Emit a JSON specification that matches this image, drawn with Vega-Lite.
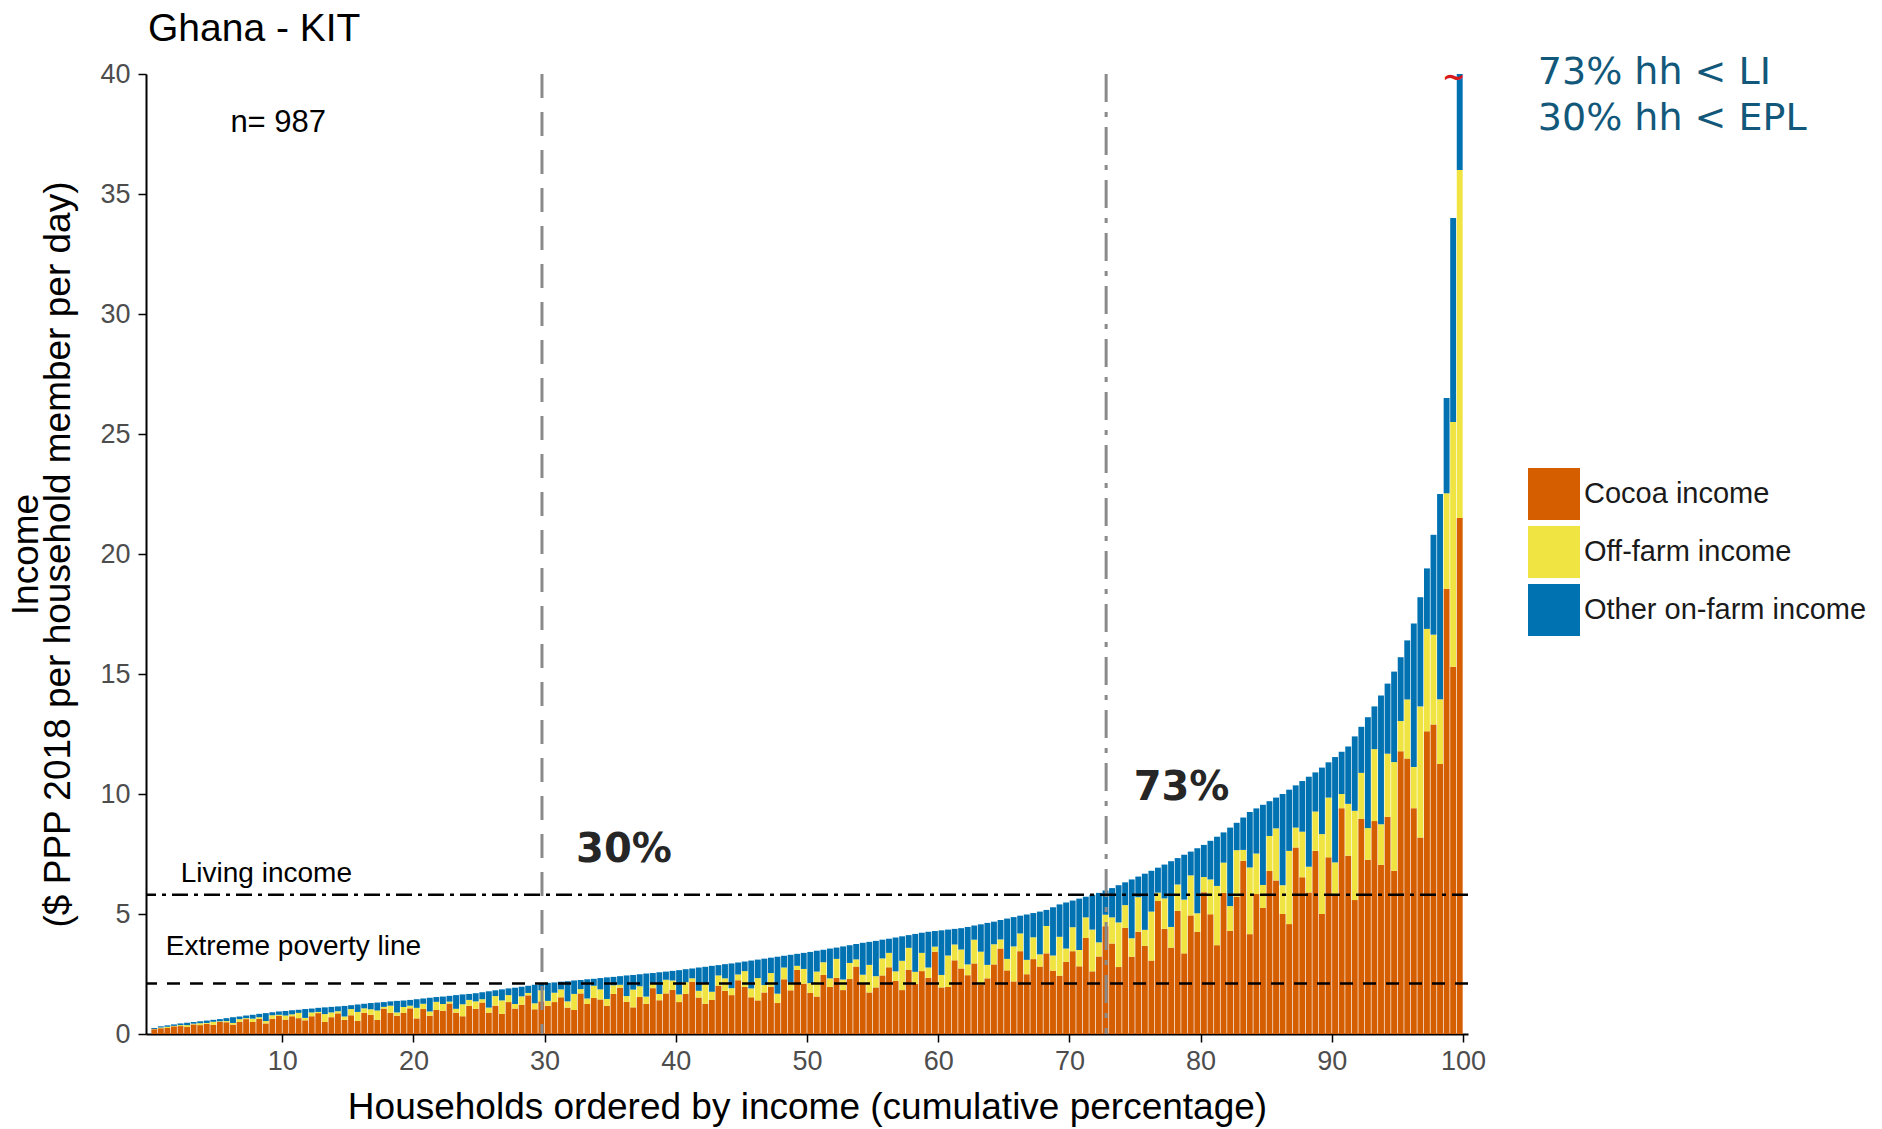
{
"$schema":"https://vega.github.io/schema/vega-lite/v6.json",
"width":1322,"height":960,
"autosize":{"type":"none"},
"padding":{"left":146,"top":74,"right":414,"bottom":95},
"background":"white",
"config":{"view":{"stroke":null},"font":"Liberation Sans"},
"title":{"text":"Ghana - KIT","anchor":"start","frame":"group","fontSize":39,"font":"Liberation Sans","fontWeight":"normal","color":"#000000","dx":2,"offset":5},
"datasets":{
"hh":[
{"p":0.25,"Cocoa income":0.20,"Off-farm income":0.01,"Other on-farm income":0.04},
{"p":0.75,"Cocoa income":0.24,"Off-farm income":0.03,"Other on-farm income":0.05},
{"p":1.25,"Cocoa income":0.25,"Off-farm income":0.05,"Other on-farm income":0.06},
{"p":1.75,"Cocoa income":0.32,"Off-farm income":0.02,"Other on-farm income":0.06},
{"p":2.25,"Cocoa income":0.33,"Off-farm income":0.04,"Other on-farm income":0.07},
{"p":2.75,"Cocoa income":0.29,"Off-farm income":0.08,"Other on-farm income":0.10},
{"p":3.25,"Cocoa income":0.40,"Off-farm income":0.03,"Other on-farm income":0.07},
{"p":3.75,"Cocoa income":0.37,"Off-farm income":0.08,"Other on-farm income":0.08},
{"p":4.25,"Cocoa income":0.42,"Off-farm income":0.04,"Other on-farm income":0.10},
{"p":4.75,"Cocoa income":0.38,"Off-farm income":0.13,"Other on-farm income":0.08},
{"p":5.25,"Cocoa income":0.50,"Off-farm income":0.03,"Other on-farm income":0.09},
{"p":5.75,"Cocoa income":0.49,"Off-farm income":0.05,"Other on-farm income":0.12},
{"p":6.25,"Cocoa income":0.39,"Off-farm income":0.07,"Other on-farm income":0.24},
{"p":6.75,"Cocoa income":0.51,"Off-farm income":0.11,"Other on-farm income":0.11},
{"p":7.25,"Cocoa income":0.62,"Off-farm income":0.04,"Other on-farm income":0.11},
{"p":7.75,"Cocoa income":0.50,"Off-farm income":0.14,"Other on-farm income":0.16},
{"p":8.25,"Cocoa income":0.63,"Off-farm income":0.07,"Other on-farm income":0.14},
{"p":8.75,"Cocoa income":0.44,"Off-farm income":0.10,"Other on-farm income":0.33},
{"p":9.25,"Cocoa income":0.64,"Off-farm income":0.14,"Other on-farm income":0.13},
{"p":9.75,"Cocoa income":0.75,"Off-farm income":0.05,"Other on-farm income":0.14},
{"p":10.25,"Cocoa income":0.60,"Off-farm income":0.17,"Other on-farm income":0.19},
{"p":10.75,"Cocoa income":0.74,"Off-farm income":0.08,"Other on-farm income":0.17},
{"p":11.25,"Cocoa income":0.66,"Off-farm income":0.22,"Other on-farm income":0.13},
{"p":11.75,"Cocoa income":0.57,"Off-farm income":0.10,"Other on-farm income":0.37},
{"p":12.25,"Cocoa income":0.74,"Off-farm income":0.16,"Other on-farm income":0.16},
{"p":12.75,"Cocoa income":0.87,"Off-farm income":0.05,"Other on-farm income":0.17},
{"p":13.25,"Cocoa income":0.50,"Off-farm income":0.33,"Other on-farm income":0.28},
{"p":13.75,"Cocoa income":0.70,"Off-farm income":0.20,"Other on-farm income":0.23},
{"p":14.25,"Cocoa income":0.86,"Off-farm income":0.09,"Other on-farm income":0.20},
{"p":14.75,"Cocoa income":0.59,"Off-farm income":0.14,"Other on-farm income":0.44},
{"p":15.25,"Cocoa income":0.78,"Off-farm income":0.26,"Other on-farm income":0.16},
{"p":15.75,"Cocoa income":0.55,"Off-farm income":0.37,"Other on-farm income":0.31},
{"p":16.25,"Cocoa income":0.88,"Off-farm income":0.19,"Other on-farm income":0.19},
{"p":16.75,"Cocoa income":0.80,"Off-farm income":0.23,"Other on-farm income":0.26},
{"p":17.25,"Cocoa income":0.59,"Off-farm income":0.39,"Other on-farm income":0.33},
{"p":17.75,"Cocoa income":1.06,"Off-farm income":0.07,"Other on-farm income":0.20},
{"p":18.25,"Cocoa income":0.88,"Off-farm income":0.30,"Other on-farm income":0.18},
{"p":18.75,"Cocoa income":0.76,"Off-farm income":0.14,"Other on-farm income":0.48},
{"p":19.25,"Cocoa income":0.87,"Off-farm income":0.25,"Other on-farm income":0.28},
{"p":19.75,"Cocoa income":1.07,"Off-farm income":0.11,"Other on-farm income":0.24},
{"p":20.25,"Cocoa income":0.65,"Off-farm income":0.44,"Other on-farm income":0.36},
{"p":20.75,"Cocoa income":1.04,"Off-farm income":0.22,"Other on-farm income":0.22},
{"p":21.25,"Cocoa income":0.76,"Off-farm income":0.18,"Other on-farm income":0.57},
{"p":21.75,"Cocoa income":1.00,"Off-farm income":0.34,"Other on-farm income":0.20},
{"p":22.25,"Cocoa income":0.97,"Off-farm income":0.28,"Other on-farm income":0.31},
{"p":22.75,"Cocoa income":1.27,"Off-farm income":0.08,"Other on-farm income":0.24},
{"p":23.25,"Cocoa income":0.89,"Off-farm income":0.16,"Other on-farm income":0.57},
{"p":23.75,"Cocoa income":0.74,"Off-farm income":0.50,"Other on-farm income":0.41},
{"p":24.25,"Cocoa income":1.17,"Off-farm income":0.25,"Other on-farm income":0.25},
{"p":24.75,"Cocoa income":1.05,"Off-farm income":0.31,"Other on-farm income":0.34},
{"p":25.25,"Cocoa income":1.31,"Off-farm income":0.14,"Other on-farm income":0.29},
{"p":25.75,"Cocoa income":0.89,"Off-farm income":0.21,"Other on-farm income":0.68},
{"p":26.25,"Cocoa income":1.18,"Off-farm income":0.40,"Other on-farm income":0.24},
{"p":26.75,"Cocoa income":0.84,"Off-farm income":0.56,"Other on-farm income":0.46},
{"p":27.25,"Cocoa income":1.33,"Off-farm income":0.29,"Other on-farm income":0.28},
{"p":27.75,"Cocoa income":1.06,"Off-farm income":0.19,"Other on-farm income":0.68},
{"p":28.25,"Cocoa income":1.22,"Off-farm income":0.35,"Other on-farm income":0.40},
{"p":28.75,"Cocoa income":1.61,"Off-farm income":0.10,"Other on-farm income":0.30},
{"p":29.25,"Cocoa income":1.03,"Off-farm income":0.25,"Other on-farm income":0.77},
{"p":29.75,"Cocoa income":1.36,"Off-farm income":0.46,"Other on-farm income":0.27},
{"p":30.25,"Cocoa income":1.17,"Off-farm income":0.21,"Other on-farm income":0.75},
{"p":30.75,"Cocoa income":1.33,"Off-farm income":0.39,"Other on-farm income":0.43},
{"p":31.25,"Cocoa income":1.53,"Off-farm income":0.33,"Other on-farm income":0.32},
{"p":31.75,"Cocoa income":1.10,"Off-farm income":0.26,"Other on-farm income":0.84},
{"p":32.25,"Cocoa income":1.00,"Off-farm income":0.67,"Other on-farm income":0.56},
{"p":32.75,"Cocoa income":1.69,"Off-farm income":0.18,"Other on-farm income":0.38},
{"p":33.25,"Cocoa income":1.25,"Off-farm income":0.23,"Other on-farm income":0.80},
{"p":33.75,"Cocoa income":1.50,"Off-farm income":0.51,"Other on-farm income":0.29},
{"p":34.25,"Cocoa income":1.44,"Off-farm income":0.42,"Other on-farm income":0.47},
{"p":34.75,"Cocoa income":1.18,"Off-farm income":0.28,"Other on-farm income":0.90},
{"p":35.25,"Cocoa income":1.67,"Off-farm income":0.36,"Other on-farm income":0.35},
{"p":35.75,"Cocoa income":1.93,"Off-farm income":0.12,"Other on-farm income":0.36},
{"p":36.25,"Cocoa income":1.34,"Off-farm income":0.24,"Other on-farm income":0.86},
{"p":36.75,"Cocoa income":1.11,"Off-farm income":0.74,"Other on-farm income":0.61},
{"p":37.25,"Cocoa income":1.54,"Off-farm income":0.45,"Other on-farm income":0.50},
{"p":37.75,"Cocoa income":1.26,"Off-farm income":0.30,"Other on-farm income":0.96},
{"p":38.25,"Cocoa income":1.91,"Off-farm income":0.20,"Other on-farm income":0.43},
{"p":38.75,"Cocoa income":1.41,"Off-farm income":0.26,"Other on-farm income":0.90},
{"p":39.25,"Cocoa income":1.69,"Off-farm income":0.57,"Other on-farm income":0.34},
{"p":39.75,"Cocoa income":1.84,"Off-farm income":0.39,"Other on-farm income":0.40},
{"p":40.25,"Cocoa income":1.33,"Off-farm income":0.32,"Other on-farm income":1.01},
{"p":40.75,"Cocoa income":1.67,"Off-farm income":0.49,"Other on-farm income":0.54},
{"p":41.25,"Cocoa income":2.18,"Off-farm income":0.14,"Other on-farm income":0.41},
{"p":41.75,"Cocoa income":1.52,"Off-farm income":0.28,"Other on-farm income":0.97},
{"p":42.25,"Cocoa income":1.26,"Off-farm income":0.84,"Other on-farm income":0.70},
{"p":42.75,"Cocoa income":1.42,"Off-farm income":0.34,"Other on-farm income":1.08},
{"p":43.25,"Cocoa income":2.01,"Off-farm income":0.43,"Other on-farm income":0.43},
{"p":43.75,"Cocoa income":1.80,"Off-farm income":0.52,"Other on-farm income":0.59},
{"p":44.25,"Cocoa income":1.62,"Off-farm income":0.29,"Other on-farm income":1.03},
{"p":44.75,"Cocoa income":2.24,"Off-farm income":0.24,"Other on-farm income":0.50},
{"p":45.25,"Cocoa income":1.96,"Off-farm income":0.66,"Other on-farm income":0.40},
{"p":45.75,"Cocoa income":1.53,"Off-farm income":0.37,"Other on-farm income":1.16},
{"p":46.25,"Cocoa income":1.40,"Off-farm income":0.93,"Other on-farm income":0.77},
{"p":46.75,"Cocoa income":1.73,"Off-farm income":0.31,"Other on-farm income":1.10},
{"p":47.25,"Cocoa income":1.97,"Off-farm income":0.57,"Other on-farm income":0.64},
{"p":47.75,"Cocoa income":1.29,"Off-farm income":0.39,"Other on-farm income":1.54},
{"p":48.25,"Cocoa income":2.28,"Off-farm income":0.49,"Other on-farm income":0.49},
{"p":48.75,"Cocoa income":1.82,"Off-farm income":0.33,"Other on-farm income":1.15},
{"p":49.25,"Cocoa income":2.67,"Off-farm income":0.17,"Other on-farm income":0.50},
{"p":49.75,"Cocoa income":2.10,"Off-farm income":0.61,"Other on-farm income":0.67},
{"p":50.25,"Cocoa income":1.71,"Off-farm income":0.41,"Other on-farm income":1.30},
{"p":50.75,"Cocoa income":1.56,"Off-farm income":1.04,"Other on-farm income":0.87},
{"p":51.25,"Cocoa income":2.46,"Off-farm income":0.53,"Other on-farm income":0.52},
{"p":51.75,"Cocoa income":1.96,"Off-farm income":0.36,"Other on-farm income":1.24},
{"p":52.25,"Cocoa income":2.34,"Off-farm income":0.79,"Other on-farm income":0.47},
{"p":52.75,"Cocoa income":1.83,"Off-farm income":0.44,"Other on-farm income":1.38},
{"p":53.25,"Cocoa income":2.29,"Off-farm income":0.67,"Other on-farm income":0.74},
{"p":53.75,"Cocoa income":2.81,"Off-farm income":0.30,"Other on-farm income":0.64},
{"p":54.25,"Cocoa income":2.09,"Off-farm income":0.38,"Other on-farm income":1.33},
{"p":54.75,"Cocoa income":1.73,"Off-farm income":1.15,"Other on-farm income":0.96},
{"p":55.25,"Cocoa income":1.94,"Off-farm income":0.47,"Other on-farm income":1.47},
{"p":55.75,"Cocoa income":2.44,"Off-farm income":0.71,"Other on-farm income":0.78},
{"p":56.25,"Cocoa income":2.78,"Off-farm income":0.60,"Other on-farm income":0.59},
{"p":56.75,"Cocoa income":2.21,"Off-farm income":0.40,"Other on-farm income":1.41},
{"p":57.25,"Cocoa income":1.83,"Off-farm income":1.22,"Other on-farm income":1.02},
{"p":57.75,"Cocoa income":2.68,"Off-farm income":0.91,"Other on-farm income":0.53},
{"p":58.25,"Cocoa income":2.09,"Off-farm income":0.50,"Other on-farm income":1.58},
{"p":58.75,"Cocoa income":2.62,"Off-farm income":0.76,"Other on-farm income":0.84},
{"p":59.25,"Cocoa income":2.34,"Off-farm income":0.43,"Other on-farm income":1.49},
{"p":59.75,"Cocoa income":3.43,"Off-farm income":0.21,"Other on-farm income":0.65},
{"p":60.25,"Cocoa income":1.94,"Off-farm income":0.52,"Other on-farm income":1.86},
{"p":60.75,"Cocoa income":1.96,"Off-farm income":1.31,"Other on-farm income":1.08},
{"p":61.25,"Cocoa income":3.07,"Off-farm income":0.66,"Other on-farm income":0.65},
{"p":61.75,"Cocoa income":2.73,"Off-farm income":0.79,"Other on-farm income":0.89},
{"p":62.25,"Cocoa income":2.45,"Off-farm income":0.45,"Other on-farm income":1.56},
{"p":62.75,"Cocoa income":2.94,"Off-farm income":0.99,"Other on-farm income":0.59},
{"p":63.25,"Cocoa income":2.06,"Off-farm income":1.37,"Other on-farm income":1.14},
{"p":63.75,"Cocoa income":2.32,"Off-farm income":0.56,"Other on-farm income":1.75},
{"p":64.25,"Cocoa income":2.90,"Off-farm income":0.84,"Other on-farm income":0.94},
{"p":64.75,"Cocoa income":3.56,"Off-farm income":0.38,"Other on-farm income":0.81},
{"p":65.25,"Cocoa income":2.65,"Off-farm income":0.48,"Other on-farm income":1.68},
{"p":65.75,"Cocoa income":2.19,"Off-farm income":1.46,"Other on-farm income":1.22},
{"p":66.25,"Cocoa income":3.45,"Off-farm income":0.74,"Other on-farm income":0.74},
{"p":66.75,"Cocoa income":2.49,"Off-farm income":0.60,"Other on-farm income":1.89},
{"p":67.25,"Cocoa income":3.12,"Off-farm income":0.91,"Other on-farm income":1.01},
{"p":67.75,"Cocoa income":2.81,"Off-farm income":0.51,"Other on-farm income":1.78},
{"p":68.25,"Cocoa income":3.36,"Off-farm income":1.14,"Other on-farm income":0.67},
{"p":68.75,"Cocoa income":2.64,"Off-farm income":0.63,"Other on-farm income":2.01},
{"p":69.25,"Cocoa income":2.43,"Off-farm income":1.62,"Other on-farm income":1.35},
{"p":69.75,"Cocoa income":3.01,"Off-farm income":0.55,"Other on-farm income":1.92},
{"p":70.25,"Cocoa income":3.45,"Off-farm income":1.00,"Other on-farm income":1.11},
{"p":70.75,"Cocoa income":2.82,"Off-farm income":0.68,"Other on-farm income":2.14},
{"p":71.25,"Cocoa income":4.00,"Off-farm income":0.86,"Other on-farm income":0.86},
{"p":71.75,"Cocoa income":2.61,"Off-farm income":1.74,"Other on-farm income":1.45},
{"p":72.25,"Cocoa income":3.23,"Off-farm income":0.59,"Other on-farm income":2.06},
{"p":72.75,"Cocoa income":4.49,"Off-farm income":0.48,"Other on-farm income":1.01},
{"p":73.25,"Cocoa income":3.77,"Off-farm income":1.09,"Other on-farm income":1.22},
{"p":73.75,"Cocoa income":2.79,"Off-farm income":1.86,"Other on-farm income":1.55},
{"p":74.25,"Cocoa income":4.42,"Off-farm income":0.95,"Other on-farm income":0.95},
{"p":74.75,"Cocoa income":3.22,"Off-farm income":0.77,"Other on-farm income":2.45},
{"p":75.25,"Cocoa income":4.26,"Off-farm income":1.44,"Other on-farm income":0.86},
{"p":75.75,"Cocoa income":3.67,"Off-farm income":0.67,"Other on-farm income":2.34},
{"p":76.25,"Cocoa income":3.06,"Off-farm income":2.04,"Other on-farm income":1.70},
{"p":76.75,"Cocoa income":5.54,"Off-farm income":0.35,"Other on-farm income":1.04},
{"p":77.25,"Cocoa income":4.38,"Off-farm income":1.27,"Other on-farm income":1.41},
{"p":77.75,"Cocoa income":3.60,"Off-farm income":0.86,"Other on-farm income":2.74},
{"p":78.25,"Cocoa income":5.13,"Off-farm income":1.10,"Other on-farm income":1.10},
{"p":78.75,"Cocoa income":3.36,"Off-farm income":2.24,"Other on-farm income":1.87},
{"p":79.25,"Cocoa income":4.94,"Off-farm income":1.67,"Other on-farm income":0.99},
{"p":79.75,"Cocoa income":4.26,"Off-farm income":0.77,"Other on-farm income":2.71},
{"p":80.25,"Cocoa income":5.91,"Off-farm income":0.63,"Other on-farm income":1.34},
{"p":80.75,"Cocoa income":4.99,"Off-farm income":1.45,"Other on-farm income":1.61},
{"p":81.25,"Cocoa income":3.70,"Off-farm income":2.47,"Other on-farm income":2.05},
{"p":81.75,"Cocoa income":5.88,"Off-farm income":1.26,"Other on-farm income":1.26},
{"p":82.25,"Cocoa income":4.30,"Off-farm income":1.03,"Other on-farm income":3.27},
{"p":82.75,"Cocoa income":5.72,"Off-farm income":1.94,"Other on-farm income":1.14},
{"p":83.25,"Cocoa income":7.22,"Off-farm income":0.45,"Other on-farm income":1.35},
{"p":83.75,"Cocoa income":4.16,"Off-farm income":2.78,"Other on-farm income":2.31},
{"p":84.25,"Cocoa income":5.83,"Off-farm income":1.69,"Other on-farm income":1.88},
{"p":84.75,"Cocoa income":5.25,"Off-farm income":0.96,"Other on-farm income":3.34},
{"p":85.25,"Cocoa income":6.79,"Off-farm income":1.46,"Other on-farm income":1.45},
{"p":85.75,"Cocoa income":6.40,"Off-farm income":2.17,"Other on-farm income":1.28},
{"p":86.25,"Cocoa income":5.00,"Off-farm income":1.20,"Other on-farm income":3.80},
{"p":86.75,"Cocoa income":4.58,"Off-farm income":3.05,"Other on-farm income":2.55},
{"p":87.25,"Cocoa income":7.77,"Off-farm income":0.83,"Other on-farm income":1.76},
{"p":87.75,"Cocoa income":6.53,"Off-farm income":1.90,"Other on-farm income":2.11},
{"p":88.25,"Cocoa income":5.90,"Off-farm income":1.07,"Other on-farm income":3.75},
{"p":88.75,"Cocoa income":7.63,"Off-farm income":1.64,"Other on-farm income":1.63},
{"p":89.25,"Cocoa income":5.00,"Off-farm income":3.33,"Other on-farm income":2.77},
{"p":89.75,"Cocoa income":7.36,"Off-farm income":2.49,"Other on-farm income":1.47},
{"p":90.25,"Cocoa income":5.77,"Off-farm income":1.38,"Other on-farm income":4.39},
{"p":90.75,"Cocoa income":9.41,"Off-farm income":0.59,"Other on-farm income":1.76},
{"p":91.25,"Cocoa income":7.43,"Off-farm income":2.16,"Other on-farm income":2.39},
{"p":91.75,"Cocoa income":5.58,"Off-farm income":3.72,"Other on-farm income":3.10},
{"p":92.25,"Cocoa income":8.96,"Off-farm income":1.92,"Other on-farm income":1.92},
{"p":92.75,"Cocoa income":7.26,"Off-farm income":1.32,"Other on-farm income":4.62},
{"p":93.25,"Cocoa income":8.87,"Off-farm income":3.00,"Other on-farm income":1.78},
{"p":93.75,"Cocoa income":7.05,"Off-farm income":1.69,"Other on-farm income":5.36},
{"p":94.25,"Cocoa income":9.05,"Off-farm income":2.63,"Other on-farm income":2.92},
{"p":94.75,"Cocoa income":6.80,"Off-farm income":4.53,"Other on-farm income":3.77},
{"p":95.25,"Cocoa income":11.78,"Off-farm income":1.26,"Other on-farm income":2.66},
{"p":95.75,"Cocoa income":11.48,"Off-farm income":2.46,"Other on-farm income":2.46},
{"p":96.25,"Cocoa income":9.41,"Off-farm income":1.71,"Other on-farm income":5.98},
{"p":96.75,"Cocoa income":8.19,"Off-farm income":5.46,"Other on-farm income":4.55},
{"p":97.25,"Cocoa income":12.61,"Off-farm income":4.27,"Other on-farm income":2.52},
{"p":97.75,"Cocoa income":12.90,"Off-farm income":3.74,"Other on-farm income":4.16},
{"p":98.25,"Cocoa income":11.25,"Off-farm income":2.70,"Other on-farm income":8.55},
{"p":98.75,"Cocoa income":18.55,"Off-farm income":3.98,"Other on-farm income":3.97},
{"p":99.25,"Cocoa income":15.30,"Off-farm income":10.20,"Other on-farm income":8.50},
{"p":99.75,"Cocoa income":21.50,"Off-farm income":14.50,"Other on-farm income":12.00}
]
},
"layer":[
{"data":{"name":"hh"},
 "transform":[{"fold":["Cocoa income","Off-farm income","Other on-farm income"],"as":["source","income"]}],
 "mark":{"type":"bar","width":5.9,"clip":true},
 "encoding":{
  "x":{"field":"p","type":"quantitative","scale":{"domain":[0,100],"nice":false,"zero":false},
   "axis":{"values":[10,20,30,40,50,60,70,80,90,100],"grid":false,"title":"Households ordered by income (cumulative percentage)","titleFont":"Liberation Sans","titleFontSize":37,"titleFontWeight":"normal","titleColor":"#000000","titlePadding":15,"labelFont":"Liberation Sans","labelFontSize":27,"labelColor":"#4d4d4d","labelPadding":6,"tickSize":8,"tickColor":"#000000","tickWidth":1.5,"domainColor":"#000000","domainWidth":2}},
  "y":{"field":"income","type":"quantitative","stack":"zero","scale":{"domain":[0,40],"nice":false},
   "axis":{"values":[0,5,10,15,20,25,30,35,40],"grid":false,"title":["Income","($ PPP 2018 per household member per day)"],"titleFont":"Liberation Sans","titleFontSize":37,"titleFontWeight":"normal","titleColor":"#000000","titleLineHeight":32,"titlePadding":22,"labelFont":"Liberation Sans","labelFontSize":27,"labelColor":"#4d4d4d","labelPadding":8,"tickSize":8,"tickColor":"#000000","tickWidth":1.5,"domainColor":"#000000","domainWidth":2}},
  "color":{"field":"source","type":"nominal",
   "scale":{"domain":["Cocoa income","Off-farm income","Other on-farm income"],"range":["#D55E00","#F0E442","#0072B2"]},
   "legend":{"title":null,"orient":"none","legendX":1382,"legendY":394,"padding":0,"symbolType":"square","symbolSize":2704,"symbolStrokeWidth":0,"symbolOpacity":1,"labelFont":"Liberation Sans","labelFontSize":29,"labelColor":"#1a1a1a","labelOffset":4,"labelLimit":0,"rowPadding":6}},
  "order":{"field":"source","type":"nominal","sort":"ascending"}
 }},
{"data":{"values":[{"p":29.8}]},"mark":{"type":"rule","color":"#8a8a8a","strokeWidth":3,"strokeDash":[24,14]},"encoding":{"x":{"field":"p","type":"quantitative"}}},
{"data":{"values":[{"p":72.8}]},"mark":{"type":"rule","color":"#8a8a8a","strokeWidth":3,"strokeDash":[28,10,5,10]},"encoding":{"x":{"field":"p","type":"quantitative"}}},
{"data":{"values":[{"v":5.8}]},"mark":{"type":"rule","color":"#000000","strokeWidth":2.5,"strokeDash":[16,6,4,6]},"encoding":{"y":{"field":"v","type":"quantitative"}}},
{"data":{"values":[{"v":2.1}]},"mark":{"type":"rule","color":"#000000","strokeWidth":2.5,"strokeDash":[13,10]},"encoding":{"y":{"field":"v","type":"quantitative"}}},
{"data":{"values":[{"p":6.05,"v":37.6,"t":"n= 987"}]},"mark":{"type":"text","align":"left","baseline":"alphabetic","font":"Liberation Sans","fontSize":31,"color":"#000000"},"encoding":{"x":{"field":"p","type":"quantitative"},"y":{"field":"v","type":"quantitative"},"text":{"field":"t"}}},
{"data":{"values":[{"p":2.27,"v":6.33,"t":"Living income"},{"p":1.13,"v":3.29,"t":"Extreme poverty line"}]},"mark":{"type":"text","align":"left","baseline":"alphabetic","font":"Liberation Sans","fontSize":28,"color":"#000000"},"encoding":{"x":{"field":"p","type":"quantitative"},"y":{"field":"v","type":"quantitative"},"text":{"field":"t"}}},
{"data":{"values":[{"p":32.4,"v":7.17,"t":"30%"},{"p":74.9,"v":9.75,"t":"73%"}]},"mark":{"type":"text","align":"left","baseline":"alphabetic","font":"DejaVu Sans","fontWeight":"bold","fontSize":40,"color":"#262626"},"encoding":{"x":{"field":"p","type":"quantitative"},"y":{"field":"v","type":"quantitative"},"text":{"field":"t"}}},
{"data":{"values":[{"p":105.7,"v":39.6,"t":"73% hh < LI"},{"p":105.7,"v":37.65,"t":"30% hh < EPL"}]},"mark":{"type":"text","align":"left","baseline":"alphabetic","font":"DejaVu Sans","fontSize":38,"color":"#12587a"},"encoding":{"x":{"field":"p","type":"quantitative"},"y":{"field":"v","type":"quantitative"},"text":{"field":"t"}}},
{"data":{"values":[{"p":99.3,"v":39.85,"t":"~"}]},"mark":{"type":"text","align":"center","baseline":"middle","font":"DejaVu Sans","fontWeight":"bold","fontSize":28,"color":"#d7191c"},"encoding":{"x":{"field":"p","type":"quantitative"},"y":{"field":"v","type":"quantitative"},"text":{"field":"t"}}}
]
}
